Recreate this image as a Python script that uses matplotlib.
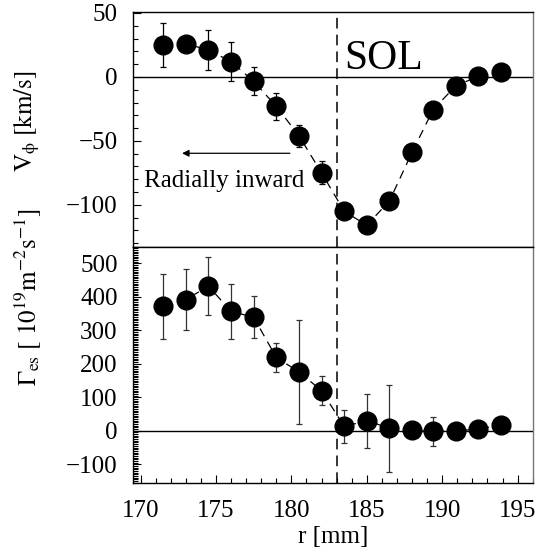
import matplotlib
matplotlib.use("Agg")
import matplotlib.pyplot as plt
from matplotlib.ticker import MultipleLocator

plt.rcParams['font.family'] = ['Liberation Serif', 'DejaVu Serif']
plt.rcParams['mathtext.fontset'] = 'stix'

r_mm = [171.5, 173.0, 174.5, 176.0, 177.5, 179.0, 180.5, 182.0,
        183.5, 185.0, 186.5, 188.0, 189.4, 190.9, 192.4, 193.9]
v_phi = [25, 26, 21, 12, -3.5, -23, -46, -75,
         -105, -116, -97, -59, -25.5, -7, 0.5, 3.6]
v_err = [17, 4.5, 15.5, 15, 11, 10.5, 8.5, 9,
         0, 0, 0, 0, 0, 0, 0, 0]
gamma = [372, 392, 432, 357, 339, 219, 176, 120,
         13, 30, 8, 1, -2, 0, 5, 18]
g_err = [97, 91, 87, 83, 63, 42, 155, 44,
         49, 81, 130, 0, 42, 0, 0, 0]
sol_r = 183.0

fig = plt.figure(figsize=(5.49, 5.52), dpi=100)
L, W = 0.2423, 0.728
ax1 = fig.add_axes([L, 0.5525, W, 0.9788 - 0.5525])
ax2 = fig.add_axes([L, 0.125, W, 0.5525 - 0.125])

fs = 18
for ax in (ax1, ax2):
    ax.set_xlim(169.5, 196.0)
    ax.axhline(0, color='black', lw=1.0, zorder=1)
    ax.axvline(sol_r, color='black', lw=1.1, dashes=(7, 4), zorder=1)
    ax.tick_params(axis='both', which='both', direction='in', labelsize=fs,
                   top=False, right=False)
    ax.tick_params(which='major', length=6, width=0.8)
    ax.tick_params(which='minor', length=3.5, width=0.8)
    ax.tick_params(axis='y', pad=11)
    ax.xaxis.set_major_locator(MultipleLocator(5))
    ax.xaxis.set_minor_locator(MultipleLocator(1))
    for s in ax.spines.values():
        s.set_linewidth(1.0)
    ax.spines['right'].set_color('#777777')

# upper panel
ax1.plot(r_mm, v_phi, color='black', lw=0.9, dashes=(7, 5), zorder=2)
ax1.errorbar(r_mm, v_phi, yerr=v_err, fmt='none', ecolor='black',
             elinewidth=0.9, capsize=2, capthick=0.9, zorder=3)
ax1.plot(r_mm, v_phi, 'o', color='black', ms=13.5, zorder=4)
ax1.set_ylim(-133, 51)
ax1.yaxis.set_major_locator(MultipleLocator(50))
ax1.yaxis.set_minor_locator(MultipleLocator(10))
ax1.tick_params(axis='x', which='both', bottom=False, labelbottom=False)
ax1.text(183.5, 14, 'SOL', fontsize=30, ha='left', va='center')
ax1.annotate('', xy=(172.75, -59.7), xytext=(179.9, -59.7),
             arrowprops=dict(arrowstyle='-|>', color='black', lw=0.9,
                             mutation_scale=10, shrinkA=0, shrinkB=0))
ax1.text(170.2, -81, 'Radially inward', fontsize=18, ha='left', va='center')

# lower panel
ax2.plot(r_mm, gamma, color='black', lw=0.9, dashes=(7, 5), zorder=2)
ax2.errorbar(r_mm, gamma, yerr=g_err, fmt='none', ecolor='#333333',
             elinewidth=0.9, capsize=2, capthick=0.9, zorder=3)
ax2.plot(r_mm, gamma, 'o', color='black', ms=13.5, zorder=4)
ax2.set_ylim(-156, 549)
ax2.yaxis.set_major_locator(MultipleLocator(100))
ax2.yaxis.set_minor_locator(MultipleLocator(5))
ax2.tick_params(axis='x', pad=12)
ax2.set_xlabel('r [mm]', fontsize=fs, labelpad=3)

fig.text(0.05, 1 - 121 / 552,
         '$\\mathrm{V}_{\\mathrm{\u03d5}}\\ \\mathrm{[km/s]}$', fontsize=fs,
         rotation=90, ha='center', va='center')
fig.text(0.05, 1 - 297 / 552,
         r'$\Gamma_{\mathrm{es}}\ \mathrm{[\ 10^{19}m^{-2}s^{-1}]}$', fontsize=fs,
         rotation=90, ha='center', va='center')

fig.savefig('out.png', dpi=100)
